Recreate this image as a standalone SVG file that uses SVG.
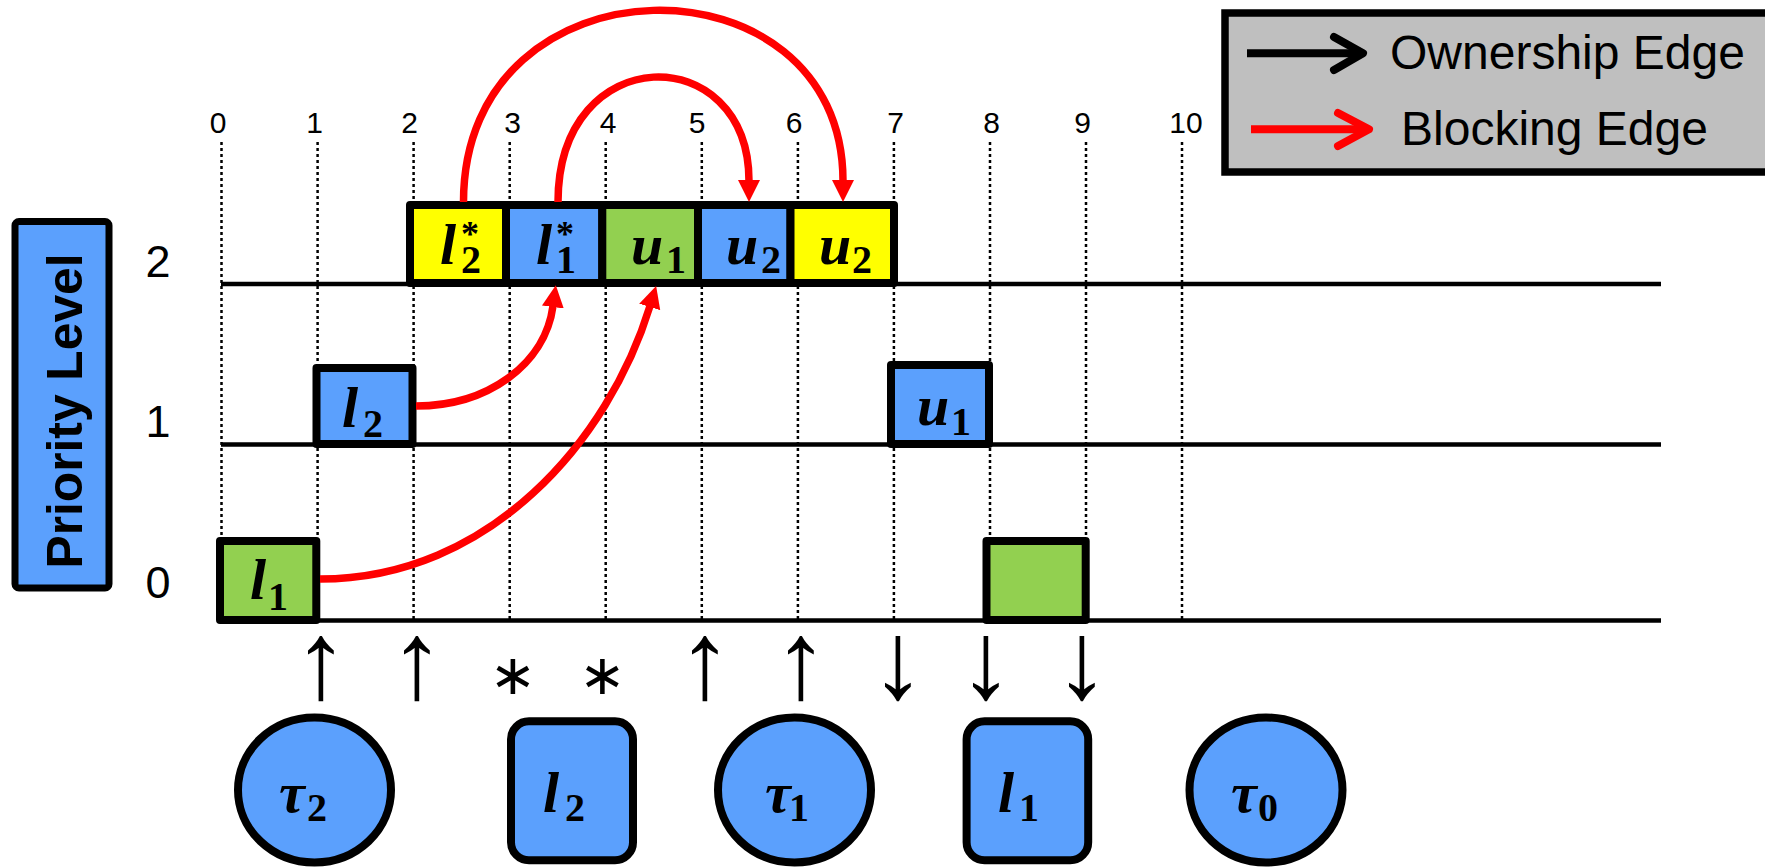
<svg xmlns="http://www.w3.org/2000/svg" width="1765" height="867" viewBox="0 0 1765 867">
  <style>
    .grid { stroke: #000; stroke-width: 2.5; stroke-dasharray: 3 3; fill: none; }
    .level { stroke: #000; stroke-width: 4.5; fill: none; }
    .blk { stroke: #000; stroke-width: 8; stroke-linejoin: round; }
    .blue { fill: #5BA0FD; }
    .green { fill: #92D050; }
    .yellow { fill: #FFFF00; }
    .tick { font-family: "Liberation Sans", Arial, sans-serif; font-size: 30px; fill: #000; text-anchor: middle; }
    .lvl { font-family: "Liberation Sans", Arial, sans-serif; font-size: 45px; fill: #000; text-anchor: middle; }
    .mi { font-family: "Liberation Serif", "Times New Roman", serif; font-style: italic; font-weight: bold; font-size: 58px; fill: #000; }
    .sub { font-family: "Liberation Serif", "Times New Roman", serif; font-style: normal; font-weight: bold; font-size: 40px; }
    .sup { font-family: "Liberation Serif", "Times New Roman", serif; font-style: normal; font-weight: bold; font-size: 36px; }
    .mark { font-family: "Liberation Sans", Arial, sans-serif; font-size: 110px; fill: #000; text-anchor: middle; }
    .star { font-family: "DejaVu Sans", sans-serif; font-size: 56px; fill: #000; text-anchor: middle; }
    .legend-text { font-family: "Liberation Sans", Arial, sans-serif; font-size: 48px; fill: #000; }
    .edge { fill: none; stroke: #FF0000; stroke-width: 7.5; }
  </style>
  <defs>
    <marker id="redHead" markerUnits="userSpaceOnUse" markerWidth="24" markerHeight="24" viewBox="0 -12 24 24" refX="1" refY="0" orient="auto">
      <path d="M0,-11 L22,0 L0,11 z" fill="#FF0000"/>
    </marker>
  </defs>

  <!-- time grid -->
  <g id="grid">
    <g class="grid">
      <line x1="221.5" y1="142" x2="221.5" y2="620"/>
      <line x1="317.6" y1="142" x2="317.6" y2="620"/>
      <line x1="413.6" y1="142" x2="413.6" y2="620"/>
      <line x1="509.7" y1="142" x2="509.7" y2="620"/>
      <line x1="605.7" y1="142" x2="605.7" y2="620"/>
      <line x1="701.8" y1="142" x2="701.8" y2="620"/>
      <line x1="797.9" y1="142" x2="797.9" y2="620"/>
      <line x1="893.9" y1="142" x2="893.9" y2="620"/>
      <line x1="990" y1="142" x2="990" y2="620"/>
      <line x1="1086" y1="142" x2="1086" y2="620"/>
      <line x1="1182" y1="142" x2="1182" y2="620"/>
    </g>
    <g class="tick">
      <text x="218" y="133">0</text>
      <text x="314.5" y="133">1</text>
      <text x="409.5" y="133">2</text>
      <text x="512.5" y="133">3</text>
      <text x="608" y="133">4</text>
      <text x="697" y="133">5</text>
      <text x="794" y="133">6</text>
      <text x="895.5" y="133">7</text>
      <text x="991.5" y="133">8</text>
      <text x="1082.5" y="133">9</text>
      <text x="1186" y="133">10</text>
    </g>
    <g class="level">
      <line x1="221" y1="284" x2="1661" y2="284"/>
      <line x1="221" y1="444.5" x2="1661" y2="444.5"/>
      <line x1="221" y1="620.5" x2="1661" y2="620.5"/>
    </g>
    <g class="lvl">
      <text x="158" y="277">2</text>
      <text x="158" y="437">1</text>
      <text x="158" y="598">0</text>
    </g>
  </g>

  <!-- axis title -->
  <g id="axis-title">
    <rect x="15" y="221.5" width="94" height="366.5" rx="4" class="blue" stroke="#000" stroke-width="7"/>
    <text transform="translate(82,411) rotate(-90)" x="0" y="0" text-anchor="middle" font-family="Liberation Sans, Arial, sans-serif" font-weight="bold" font-size="50" textLength="315" lengthAdjust="spacingAndGlyphs" fill="#000">Priority Level</text>
  </g>

  <!-- level 2 segments -->
  <g id="seg-l2star-2">
    <rect x="410" y="205" width="96" height="78" class="blk yellow"/>
    <text class="mi"><tspan x="440" y="264">l</tspan><tspan class="sub" x="461" y="273">2</tspan><tspan class="sup" x="461" y="246">*</tspan></text>
  </g>
  <g id="seg-l1star-2">
    <rect x="506" y="205" width="96.3" height="78" class="blk blue"/>
    <text class="mi"><tspan x="536" y="264">l</tspan><tspan class="sub" x="556" y="273">1</tspan><tspan class="sup" x="556" y="246">*</tspan></text>
  </g>
  <g id="seg-u1-2">
    <rect x="602.3" y="205" width="95.7" height="78" class="blk green"/>
    <text class="mi"><tspan x="631" y="264">u</tspan><tspan class="sub" x="666" y="273">1</tspan></text>
  </g>
  <g id="seg-u2-2a">
    <rect x="698" y="205" width="92.5" height="78" class="blk blue"/>
    <text class="mi"><tspan x="726" y="264">u</tspan><tspan class="sub" x="761" y="273">2</tspan></text>
  </g>
  <g id="seg-u2-2b">
    <rect x="790.5" y="205" width="103.5" height="78" class="blk yellow"/>
    <text class="mi"><tspan x="819" y="264">u</tspan><tspan class="sub" x="852" y="273">2</tspan></text>
  </g>

  <!-- level 1 segments -->
  <g id="seg-l2-1">
    <rect x="316.5" y="368" width="96" height="76" class="blk blue"/>
    <text class="mi"><tspan x="342" y="427">l</tspan><tspan class="sub" x="363" y="437">2</tspan></text>
  </g>
  <g id="seg-u1-1">
    <rect x="891" y="365" width="98" height="79" class="blk blue"/>
    <text class="mi"><tspan x="917" y="425">u</tspan><tspan class="sub" x="951" y="435">1</tspan></text>
  </g>

  <!-- level 0 segments -->
  <g id="seg-l1-0">
    <rect x="220" y="541" width="96.3" height="79" class="blk green"/>
    <text class="mi"><tspan x="250" y="599">l</tspan><tspan class="sub" x="268" y="610">1</tspan></text>
  </g>
  <g id="seg-idle-0">
    <rect x="986.5" y="541" width="99.2" height="79" class="blk green"/>
  </g>

  <!-- blocking edges -->
  <g id="connectors">
    <path class="edge" d="M463.5,202 C463.5,-50 843,-50 843,181" marker-end="url(#redHead)"/>
    <path class="edge" d="M558,202 C558,39 749,39 749,181" marker-end="url(#redHead)"/>
    <path class="edge" d="M416,406 C487,406 545,365 553,306" marker-end="url(#redHead)"/>
    <path class="edge" d="M320,579 C490,579 609,440 650,306" marker-end="url(#redHead)"/>
  </g>

  <!-- event marks under the time axis -->
  <g id="events">
    <text class="mark" x="321" y="698">↑</text>
    <text class="mark" x="417" y="698">↑</text>
    <text class="star" x="513" y="694">∗</text>
    <text class="star" x="602.5" y="694">∗</text>
    <text class="mark" x="705" y="698">↑</text>
    <text class="mark" x="801" y="698">↑</text>
    <text class="mark" x="898" y="698">↓</text>
    <text class="mark" x="986" y="698">↓</text>
    <text class="mark" x="1082" y="698">↓</text>
  </g>

  <!-- tasks and locks -->
  <g id="task-tau2">
    <ellipse cx="314.5" cy="790" rx="76.5" ry="72.5" class="blk blue"/>
    <text class="mi"><tspan x="279" y="812">τ</tspan><tspan class="sub" x="307" y="821">2</tspan></text>
  </g>
  <g id="lock-l2">
    <rect x="511" y="721.3" width="122" height="139" rx="18" class="blk blue"/>
    <text class="mi"><tspan x="543" y="812">l</tspan><tspan class="sub" x="565" y="821">2</tspan></text>
  </g>
  <g id="task-tau1">
    <ellipse cx="794.5" cy="790" rx="76.5" ry="72.5" class="blk blue"/>
    <text class="mi"><tspan x="765" y="812">τ</tspan><tspan class="sub" x="789" y="821">1</tspan></text>
  </g>
  <g id="lock-l1">
    <rect x="966.6" y="721.3" width="121.6" height="139" rx="18" class="blk blue"/>
    <text class="mi"><tspan x="998" y="812">l</tspan><tspan class="sub" x="1019" y="821">1</tspan></text>
  </g>
  <g id="task-tau0">
    <ellipse cx="1266" cy="790" rx="76.5" ry="72.5" class="blk blue"/>
    <text class="mi"><tspan x="1231" y="812">τ</tspan><tspan class="sub" x="1258" y="821">0</tspan></text>
  </g>

  <!-- legend -->
  <g id="legend">
    <rect x="1225" y="13" width="560" height="159" fill="#BFBFBF" stroke="#000" stroke-width="7.5"/>
    <g fill="none" stroke="#000" stroke-width="8" stroke-linecap="round" stroke-linejoin="round">
      <line x1="1247" y1="53.3" x2="1358" y2="53.3" stroke-linecap="butt"/>
      <polyline points="1334,37 1363,53.3 1334,70"/>
    </g>
    <g fill="none" stroke="#FF0000" stroke-width="8" stroke-linecap="round" stroke-linejoin="round">
      <line x1="1251" y1="129.3" x2="1364" y2="129.3" stroke-linecap="butt"/>
      <polyline points="1338,113 1369,129.3 1338,146"/>
    </g>
    <text class="legend-text" x="1390" y="69">Ownership Edge</text>
    <text class="legend-text" x="1401" y="145">Blocking Edge</text>
  </g>
</svg>
